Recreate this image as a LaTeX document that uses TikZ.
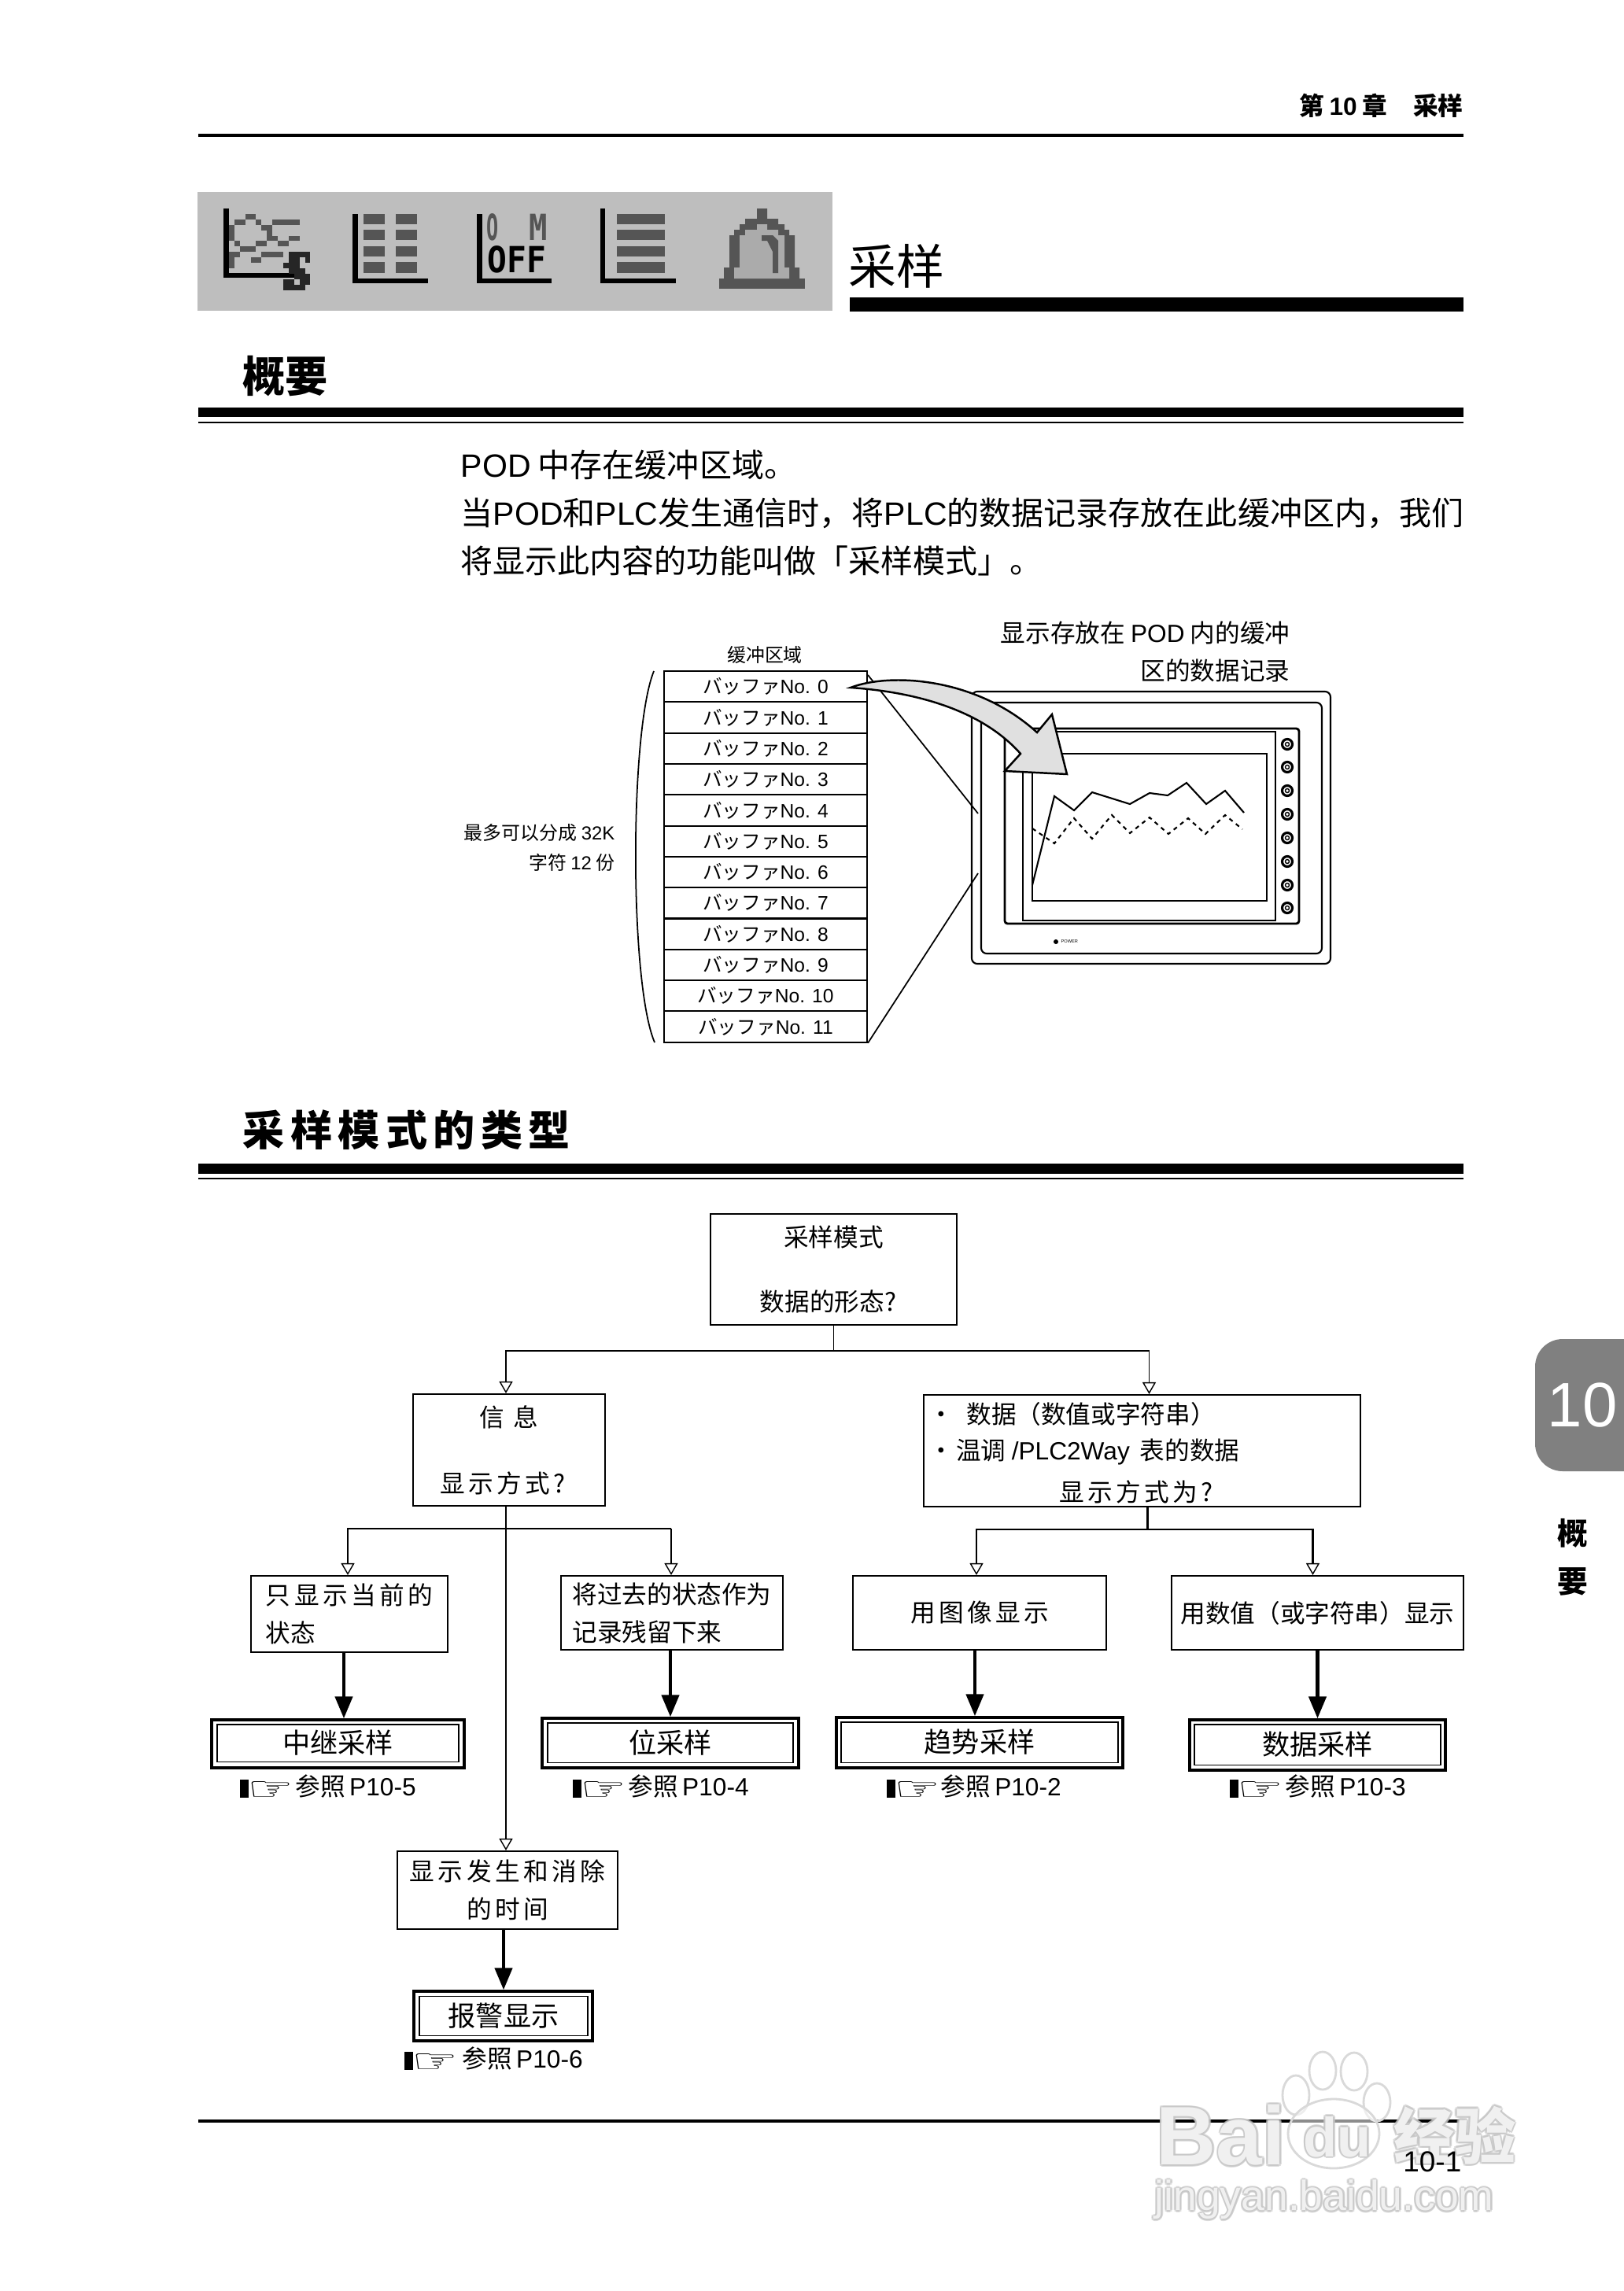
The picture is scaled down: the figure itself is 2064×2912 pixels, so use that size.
\documentclass[tikz,border=0pt]{standalone}
\usepackage{fontspec}
\setmainfont{Noto Sans CJK SC}
\newfontfamily\arialfont{Liberation Sans}
\newfontfamily\spaced{Noto Sans CJK SC}[LetterSpace=14.0]
\newfontfamily\symfont{DejaVu Sans}
\newfontfamily\monofont{DejaVu Sans Mono}
\usetikzlibrary{arrows.meta,calc}
\newcommand{\en}[1]{{\arialfont #1}}
\newcommand{\pxu}{0.01cm}
\newcommand{\fs}[1]{\fontsize{#1}{#1}\selectfont}
\newcommand{\low}[1]{\raisebox{-0.035cm}{#1}}
\newcommand{\handmark}{\rule[-0.6pt]{3.2pt}{6.4pt}\kern-0.4pt\raisebox{-1.6pt}{\scalebox{1.25}[0.8]{\symfont\fs{15}☞}}}
\newcommand{\wmtext}[5]{%
  \foreach \a in {0,45,...,315}
    \node[inner sep=0pt,anchor=west,text=gray!45,text opacity=0.6,font=#4] (#1\a) at ($(#2,#3)+(\a:2.5)$) {#5};
  \node[inner sep=0pt,anchor=west,text=white,text opacity=0.75,font=#4] (#1) at (#2,#3) {#5};}
\definecolor{panelgray}{HTML}{BEBEBE}
\definecolor{icondark}{HTML}{555555}
\definecolor{belllight}{HTML}{ABABAB}
\definecolor{tabgray}{HTML}{808080}
\definecolor{curvegray}{HTML}{E0E0E0}
\tikzset{
  flowbox/.style={draw,line width=0.6pt,inner sep=0pt,font=\fontsize{9}{13.65}\selectfont},
  resultouter/.style={draw,line width=1pt,inner sep=0pt},
  resultinner/.style={draw,line width=0.3pt,inner sep=0pt,font=\fs{10}},
  refnote/.style={anchor=west,inner sep=0pt,font=\fs{9}},
  bufrow/.style={draw,line width=0.6pt,minimum width=258*\pxu,minimum height=39.3*\pxu,inner sep=0pt,font=\fs{7}},
  smalltext/.style={inner sep=0pt,font=\fs{6.8}},
  bodytext/.style={anchor=west,inner sep=0pt,font=\fs{11.67}},
  flowline/.style={line width=0.6pt},
  thinline/.style={line width=0.35pt},
  opentip/.style={-{Triangle[open,fill=white,length=0.15cm,width=0.17cm,line width=0.4pt]}},
  heavyline/.style={line width=1.3pt,-{Triangle[length=0.28cm,width=0.22cm]}},
  monitorline/.style={line width=0.6pt},
}
\begin{document}
\begin{tikzpicture}[x=0.01cm,y=-0.01cm]
  \useasboundingbox (0,0) rectangle (2064,2912);
  \fill[white] (0,0) rectangle (2064,2912);

  \node[anchor=east,inner sep=0pt,font=\bfseries\fs{9}] (chapter) at (1860,134) {第\hspace{0.065cm}\en{10}\hspace{0.065cm}章\hspace{0.33cm}采样};
  \draw[line width=1pt] (252,172) -- (1860,172);

  \fill[panelgray] (251,244) rectangle (1058,395);
  \fill (284,265) rectangle (291,353);
  \fill (284,347) rectangle (384,353);
  \foreach \c/\r in {4/1,5/1,2/2,3/2,6/2,9/2,10/2,11/2,12/2,13/2,1/3,7/3,8/3,1/4,8/4,1/5,8/5,9/5,12/5,13/5,2/6,6/6,7/6,10/6,11/6,3/7,4/7,5/7,1/8,2/8,7/8,8/8,9/8,10/8,1/9,5/9,6/9,1/10}
    \fill[icondark] ({284+6.9*\c},{265+6.9*\r}) rectangle +(6.9,6.9);
  \foreach \c/\r in {12/8,13/8,14/8,15/8,12/9,13/9,15/9,11/10,12/10,13/10,12/11,13/11,14/11,13/12,14/12,15/12,11/13,12/13,14/13,15/13,11/14,12/14,13/14,14/14}
    \fill[black!85] ({284+6.9*\c},{265+6.9*\r}) rectangle +(6.9,6.9);
  \fill (448,272) rectangle (455,360);
  \fill (448,354) rectangle (544,360);
  \foreach \t/\b in {272/285,292/305,313/326,333/347} {
    \fill[icondark] (462,\t) rectangle (489,\b);
    \fill[icondark] (503,\t) rectangle (530,\b);
    \fill[icondark] (784,\t) rectangle (845,\b);
  }
  \fill (606,272) rectangle (613,360);
  \fill (606,354) rectangle (701,360);
  \node[inner sep=0pt,xscale=0.9,font=\monofont\bfseries\fs{13}] (iconoff) at (657,330) {OFF};
  \node[inner sep=0pt,xscale=0.55,text=icondark,font=\monofont\bfseries\fs{13}] (icono) at (626,289) {O};
  \node[inner sep=0pt,xscale=0.85,text=icondark,font=\monofont\bfseries\fs{13}] (iconm) at (684,289) {M};
  \fill (763,265) rectangle (769,360);
  \fill (763,354) rectangle (859,360);
  \fill[icondark] (914,354) rectangle (1023,367);
  \fill[icondark] (962,265) -- (975,265) -- (975,278) -- (989,278) -- (989,285) -- (997,285) -- (997,292) -- (1003,292) -- (1003,299) -- (1010,299) -- (1010,340) -- (1016,340) -- (1016,354)
    -- (920,354) -- (920,340) -- (927,340) -- (927,299) -- (933,299) -- (933,292) -- (940,292) -- (940,285) -- (947,285) -- (947,278) -- (962,278) -- cycle;
  \fill[belllight] (962,285) -- (975,285) -- (975,292) -- (989,292) -- (989,299) -- (997,299) -- (997,340) -- (1003,340) -- (1003,354) -- (933,354) -- (933,340) -- (940,340) -- (940,299) -- (947,299) -- (947,292) -- (962,292) -- cycle;
  \fill[icondark] (968,299) -- (982,299) -- (989,306) -- (989,347) -- (982,347) -- (982,320) -- (975,306) -- (968,306) -- cycle;

  \node[anchor=west,inner sep=0pt,font=\fs{17.3}] (title) at (1078,338) {采样};
  \fill (1080,378) rectangle (1860,396);

  \node[anchor=west,inner sep=0pt,font=\bfseries\fs{15.4}] (overview) at (308,478) {概要};
  \fill (252,518) rectangle (1860,530);
  \draw[line width=0.4pt] (252,537) -- (1860,537);

  \node[bodytext] (intro1) at (585,591) {\en{POD} 中存在缓冲区域。};
  \node[bodytext] (intro2) at (585,652) {当\en{POD}和\en{PLC}发生通信时，将\en{PLC}的数据记录存放在此缓冲区内，我们};
  \node[bodytext] (intro3) at (585,713) {将显示此内容的功能叫做「采样模式」。};

  \node[smalltext] (buftitle) at (972,832) {缓冲区域};
  \foreach \i in {0,...,11}
    \node[bufrow] (buf\i) at (973,{872.7+39.3*\i}) {バッファ\en{No. \i}};
  \draw[line width=0.5pt] (831,853) .. controls (800,930) and (800,1250) .. (832,1325);
  \node[smalltext,anchor=east] (split1) at (782,1058) {最多可以分成 \en{32K}};
  \node[smalltext,anchor=east] (split2) at (782,1096) {字符 \en{12} 份};
  \node[anchor=east,inner sep=0pt,font=\fs{9}] (show1) at (1640,804) {显示存放在 \en{POD} 内的缓冲};
  \node[anchor=east,inner sep=0pt,font=\fs{9}] (show2) at (1640,852) {区的数据记录};

  \draw[monitorline,rounded corners=2pt] (1235,879) rectangle (1691,1225);
  \draw[monitorline,rounded corners=2pt] (1247,893) rectangle (1680,1212);
  \draw[monitorline,line width=0.8pt,rounded corners=1pt] (1277,926) rectangle (1651,1174);
  \draw[monitorline] (1300,930) rectangle (1621,1170);
  \draw[monitorline] (1312,958) rectangle (1610,1145);
  \foreach \y in {946,975,1005,1035,1065,1095,1125,1154} {
    \draw[line width=0.9pt] (1636,\y) circle (6.5);
    \draw[line width=0.4pt] (1636,\y) circle (2.5);
  }
  \fill (1342,1197) circle (3);
  \node[anchor=west,inner sep=0pt,font=\arialfont\fs{1.6}] (power) at (1348,1197) {POWER};
  \draw[line width=0.6pt] (1312,1125) -- (1340,1012) -- (1365,1030) -- (1388,1007) -- (1436,1022) -- (1461,1008) -- (1484,1011) -- (1508,995) -- (1533,1022) -- (1557,1005) -- (1581,1033);
  \draw[line width=0.6pt,dash pattern=on 1.5pt off 1.5pt] (1312,1053) -- (1340,1072) -- (1365,1040) -- (1388,1066) -- (1413,1036) -- (1436,1059) -- (1461,1039) -- (1485,1060) -- (1510,1040) -- (1532,1060) -- (1557,1036) -- (1579,1054);
  \draw[line width=0.5pt] (buf0.north east) ++(0,6) -- (1243,1034);
  \draw[line width=0.5pt] (buf11.south east) -- (1243,1110);
  \draw[line width=0.7pt,fill=curvegray] (1081,874) .. controls (1130,855) and (1240,860) .. (1318,931) -- (1337,908) -- (1356,984) -- (1277,980) -- (1297,958) .. controls (1250,905) and (1170,880) .. cycle;

  \node[anchor=west,inner sep=0pt,font=\bfseries\spaced\fs{15.1}] (types) at (308,1436) {采样模式的类型};
  \fill (252,1479) rectangle (1860,1492);
  \draw[line width=0.4pt] (252,1498) -- (1860,1498);

  \node[flowbox,align=center,minimum width=313*\pxu,minimum height=141*\pxu] (root) at (1059.5,1613.5) {采样模式\\[0.34cm]数据的形态?\hspace*{0.14cm}};
  \node[flowbox,align=center,minimum width=244*\pxu,minimum height=142*\pxu] (info) at (647,1843) {{\spaced 信 息}\\[0.36cm]{\spaced 显示方式?}\hspace*{0.16cm}};
  \node[flowbox,minimum width=555*\pxu,minimum height=142*\pxu] (data) at (1451.5,1844) {};
  \node[anchor=west,inner sep=0pt,font=\fs{9}] (dataline1) at (1180,1797) {·\hspace{0.16cm}数据（数值或字符串）};
  \node[anchor=west,inner sep=0pt,font=\fs{9}] (dataline2) at (1180,1845) {·\hspace{0.03cm}温调 \en{/PLC2Way}\hspace{0.06cm} 表的数据};
  \node[inner sep=0pt,font=\fs{9}] (dataline3) at (1444,1896) {\spaced 显示方式为?};

  \node[flowbox,align=left,minimum width=250*\pxu,minimum height=97*\pxu] (current) at (444,2051.5) {{\spaced 只显示当前的}\\状态};
  \node[flowbox,align=left,minimum width=282*\pxu,minimum height=94*\pxu] (past) at (854,2050) {将过去的状态作为\\记录残留下来};
  \node[flowbox,minimum width=322*\pxu,minimum height=94*\pxu] (image) at (1245,2050) {\low{\spaced 用图像显示}};
  \node[flowbox,minimum width=371*\pxu,minimum height=94*\pxu] (value) at (1674.5,2050) {\low{用数值（或字符串）显示}};
  \node[flowbox,align=center,minimum width=280*\pxu,minimum height=99*\pxu] (period) at (645,2402.5) {{\spaced 显示发生和消除}\\{\spaced 的时间}};

  \node[resultouter,minimum width=321*\pxu,minimum height=61*\pxu] (relayouter) at (429.5,2216.5) {};
  \node[resultinner,minimum width=307*\pxu,minimum height=47*\pxu] (relay) at (429.5,2215.5) {\low{中继采样}};
  \node[resultouter,minimum width=326*\pxu,minimum height=63*\pxu] (bitouter) at (852,2215.5) {};
  \node[resultinner,minimum width=312*\pxu,minimum height=50*\pxu] (bit) at (852,2215) {\low{位采样}};
  \node[resultouter,minimum width=364*\pxu,minimum height=64*\pxu] (trendouter) at (1245,2215) {};
  \node[resultinner,minimum width=352*\pxu,minimum height=51*\pxu] (trend) at (1245,2214.5) {\low{趋势采样}};
  \node[resultouter,minimum width=325*\pxu,minimum height=64*\pxu] (dataouter) at (1674.5,2218) {};
  \node[resultinner,minimum width=313*\pxu,minimum height=51*\pxu] (record) at (1674.5,2217.5) {\low{数据采样}};
  \node[resultouter,minimum width=227*\pxu,minimum height=63*\pxu] (alarmouter) at (639.5,2562.5) {};
  \node[resultinner,minimum width=214*\pxu,minimum height=50*\pxu] (alarm) at (640,2562) {\low{报警显示}};

  \node[refnote] (relayref) at (304,2272) {\handmark\hspace{0.02cm}参照\,\en{P10-5}};
  \node[refnote] (bitref) at (727,2272) {\handmark\hspace{0.02cm}参照\,\en{P10-4}};
  \node[refnote] (trendref) at (1126,2272) {\handmark\hspace{0cm}参照\,\en{P10-2}};
  \node[refnote] (dataref) at (1562,2272) {\handmark\hspace{0.02cm}参照\,\en{P10-3}};
  \node[refnote] (alarmref) at (513,2618) {\handmark\hspace{0.05cm}参照\,\en{P10-6}};

  \coordinate (rootjoin) at ([yshift=-32*\pxu]root.south);
  \coordinate (datatop) at ([xshift=9*\pxu]data.north);
  \draw[thinline] (root.south) -- (rootjoin);
  \draw[flowline,opentip] (rootjoin) -| ([xshift=-4*\pxu]info.north);
  \draw[flowline] (rootjoin) -- (rootjoin -| datatop);
  \draw[thinline,opentip] (rootjoin -| datatop) -- (datatop);

  \coordinate (infodrop) at ([xshift=-4*\pxu]info.south);
  \coordinate (infojoin) at ([yshift=-28*\pxu]infodrop);
  \coordinate (pasttop) at ([xshift=-1*\pxu]past.north);
  \draw[flowline,opentip] (infodrop) -- ([xshift=-2*\pxu]period.north);
  \draw[flowline,opentip] (infojoin) -| ([xshift=-2*\pxu]current.north);
  \draw[flowline] (infojoin) -- (infojoin -| pasttop);
  \draw[thinline,opentip] (infojoin -| pasttop) -- (pasttop);

  \coordinate (datadrop) at ([xshift=7*\pxu]data.south);
  \coordinate (datajoin) at ([yshift=-28*\pxu]datadrop);
  \draw[flowline] (datadrop) -- (datajoin);
  \draw[flowline,opentip] (datajoin) -| ([xshift=-4*\pxu]image.north);
  \draw[flowline,opentip] (datajoin) -| ([xshift=-6*\pxu]value.north);

  \draw[heavyline] ([xshift=-7*\pxu]current.south) -- ([xshift=7.5*\pxu]relayouter.north);
  \draw[heavyline] ([xshift=-2*\pxu]past.south) -- (bitouter.north);
  \draw[heavyline] ([xshift=-6*\pxu]image.south) -- ([xshift=-6*\pxu]trendouter.north);
  \draw[heavyline] (value.south) -- (dataouter.north);
  \draw[heavyline] ([xshift=-5*\pxu]period.south) -- ([xshift=0.5*\pxu]alarmouter.north);

  \fill[tabgray,rounded corners=0.35cm] (2100,1702) -- (1951,1702) -- (1951,1870) -- (2100,1870) -- cycle;
  \node[inner sep=0pt,text=white,font=\arialfont\fs{22.7}] (tabnumber) at (2011,1786) {10};
  \node[inner sep=0pt,font=\bfseries\fs{11}] (tabword1) at (1999,1949) {概};
  \node[inner sep=0pt,font=\bfseries\fs{11}] (tabword2) at (1999,2010) {要};

  \draw[line width=1pt] (252,2696) -- (1860,2696);

  \begin{scope}[draw=gray!30,line width=0.8pt,fill=white,fill opacity=0.55]
    \filldraw (1647,2663) ellipse (17 and 25);
    \filldraw (1681,2632) ellipse (17 and 24);
    \filldraw (1721,2633) ellipse (17 and 24);
    \filldraw (1750,2672) ellipse (17 and 24);
    \filldraw (1695,2712) ellipse (58 and 44);
  \end{scope}
  \wmtext{wmbai}{1469}{2714}{\arialfont\bfseries\fs{30}}{Bai}
  \wmtext{wmdu}{1656}{2716}{\arialfont\bfseries\fs{20}}{du}
  \wmtext{wmword}{1771}{2714}{\bfseries\fs{22}}{经验}
  \wmtext{wmurl}{1467}{2796}{\arialfont\fs{15.2}}{jingyan.baidu.com}

  \node[anchor=east,inner sep=0pt,font=\arialfont\fs{10.5}] (pagenum) at (1858,2748) {10-1};
\end{tikzpicture}
\end{document}
